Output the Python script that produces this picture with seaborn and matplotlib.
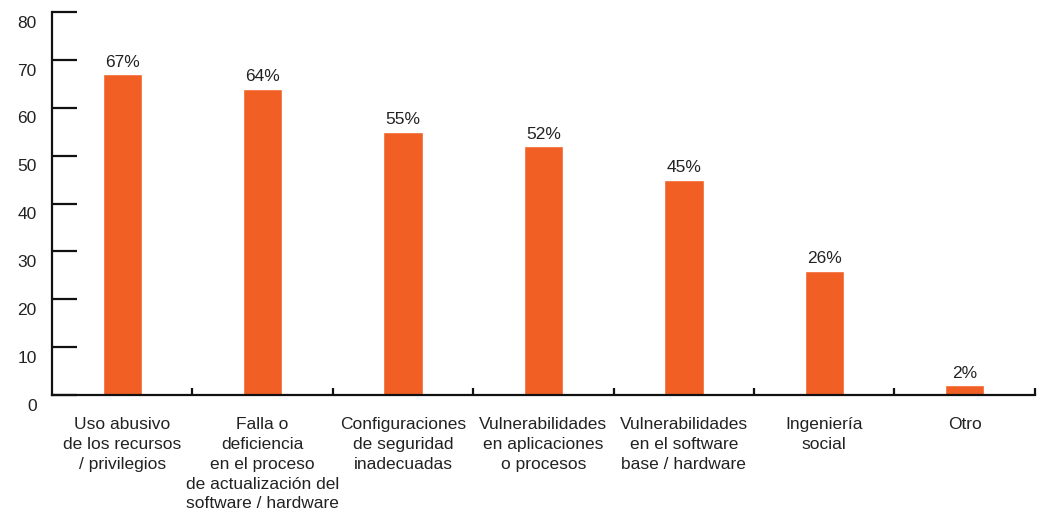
import matplotlib
matplotlib.use("Agg")
import matplotlib.pyplot as plt
import matplotlib.transforms as mtransforms
from matplotlib.ticker import FixedLocator
import seaborn as sns
import pandas as pd

categories = [
    "Uso abusivo\nde los recursos\n/ privilegios",
    "Falla o\ndeficiencia\nen el proceso\nde actualización del\nsoftware / hardware",
    "Configuraciones\nde seguridad\ninadecuadas",
    "Vulnerabilidades\nen aplicaciones\no procesos",
    "Vulnerabilidades\nen el software\nbase / hardware",
    "Ingeniería\nsocial",
    "Otro",
]
values = [67, 64, 55, 52, 45, 26, 2]
y_ticks = [0, 10, 20, 30, 40, 50, 60, 70, 80]

sns.set_theme(style="white")
plt.rcParams["font.family"] = ["Liberation Sans", "DejaVu Sans"]

df = pd.DataFrame({"categoria": categories, "valor": values})

fig = plt.figure(figsize=(10.44, 5.12), dpi=100)
ax = fig.add_axes([0.0498, 0.2285, 0.9415, 0.748])

sns.barplot(data=df, x="categoria", y="valor", color="#F15F25",
            width=0.28, saturation=1, ax=ax)

ax.set_xlim(-0.5, len(categories) - 0.5)
ax.set_ylim(0, 80)
ax.set_xlabel("")
ax.set_ylabel("")

# value labels above bars
for i, v in enumerate(values):
    ax.text(i, v + 0.9, f"{v}%", ha="center", va="bottom",
            fontsize=12.5, color="#222222")

# spines
for s in ["top", "right"]:
    ax.spines[s].set_visible(False)
for s in ["left", "bottom"]:
    ax.spines[s].set_color("#111111")
    ax.spines[s].set_linewidth(1.6)

# y ticks pointing into the plot
ax.set_yticks(y_ticks)
ax.tick_params(axis="y", left=True, direction="in", length=18, width=1.6,
               color="#111111", labelsize=12.5, labelcolor="#222222", pad=11)
offset = mtransforms.ScaledTranslation(0, -7 / 72, fig.dpi_scale_trans)
for lbl in ax.get_yticklabels():
    lbl.set_transform(lbl.get_transform() + offset)

# x: labels at categories, tick marks at category boundaries
ax.tick_params(axis="x", which="major", length=0, labelsize=12.5,
               labelcolor="#222222", pad=16)
ax.xaxis.set_minor_locator(FixedLocator([i + 0.5 for i in range(len(categories))]))
ax.tick_params(axis="x", which="minor", direction="in", length=5, width=1.6,
               color="#111111", bottom=True)
for lbl in ax.get_xticklabels():
    lbl.set_linespacing(1.4)

fig.savefig("out.png", dpi=100, facecolor="white")
